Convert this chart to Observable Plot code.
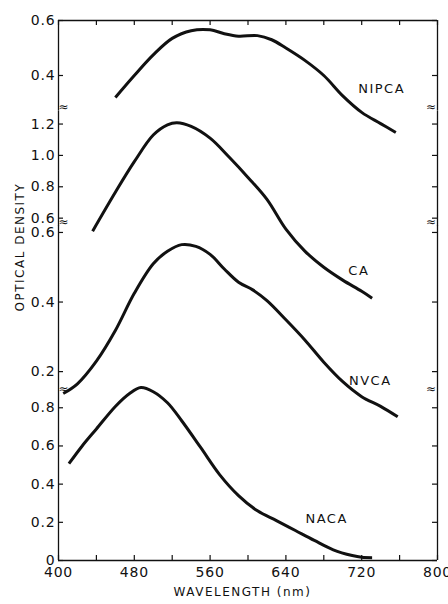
<!DOCTYPE html>
<html><head><meta charset="utf-8">
<script src="https://cdn.jsdelivr.net/npm/d3@7"></script>
<script src="https://cdn.jsdelivr.net/npm/@observablehq/plot@0.6"></script>
<style>
html,body{margin:0;padding:0;background:#fff;}
#chart{position:relative;width:448px;height:604px;font-family:"DejaVu Sans",sans-serif;color:#111;}
#chart svg{position:absolute;left:0;overflow:visible;background:transparent;}
#chart g[aria-label="text"] text{letter-spacing:1.5px;}
#chart g[aria-label$="tick label"] text{letter-spacing:0.8px;}
</style></head><body><div id="chart"></div>
<script>
// ---- data (wavelength in nm, optical density) ----
const nipcaWl = [460,480,500,520,540,560,575,590,610,625,640,660,680,700,720,740,756];
const nipcaOD = [0.32,0.40,0.475,0.535,0.563,0.566,0.552,0.543,0.545,0.53,0.50,0.455,0.40,0.326,0.266,0.225,0.193];
const caWl = [436,460,480,500,515,525,540,560,580,600,620,640,660,680,700,720,731];
const caOD = [0.517,0.765,0.96,1.13,1.195,1.208,1.185,1.11,0.99,0.86,0.72,0.53,0.39,0.287,0.205,0.134,0.09];
const nvcaWl = [405,420,440,460,480,500,515,530,545,560,575,590,605,620,640,660,680,700,720,740,758];
const nvcaOD = [0.137,0.165,0.23,0.318,0.425,0.51,0.546,0.565,0.56,0.537,0.495,0.457,0.435,0.404,0.349,0.291,0.227,0.171,0.128,0.10,0.07];
const nacaWl = [411,425,440,460,475,487,500,515,530,550,570,590,610,630,650,670,690,710,720,731];
const nacaOD = [0.507,0.60,0.689,0.807,0.875,0.906,0.884,0.826,0.732,0.592,0.45,0.34,0.26,0.209,0.157,0.105,0.056,0.026,0.017,0.015];

const seriesNames = ["NIPCA","CA","NVCA","NACA"];
const nipcaTicks = [0.4,0.6];
const caTicks = [0.6,0.8,1.0,1.2];
const nvcaTicks = [0.2,0.4,0.6];
const nacaTicks = [0,0.2,0.4,0.6,0.8];
const xTicks = [400,440,480,520,560,600,640,680,720,760,800];
const xLabelTicks = [400,480,560,640,720,800];
const xTitle = "WAVELENGTH (nm)";
const yTitle = "OPTICAL DENSITY";
const breakMark = "≈";

// ---- layout of the stacked panels ----
const panels = [
  {name:seriesNames[0], wl:nipcaWl, od:nipcaOD, ticks:nipcaTicks, domain:[0.27,0.6], frame:[20,110.75], labelAt:[741,0.353]},
  {name:seriesNames[1], wl:caWl, od:caOD, ticks:caTicks, domain:[0.55,1.28], frame:[110.5,225], labelAt:[717,0.262]},
  {name:seriesNames[2], wl:nvcaWl, od:nvcaOD, ticks:nvcaTicks, domain:[0.14,0.62], frame:[225,392], labelAt:[729,0.174]},
  {name:seriesNames[3], wl:nacaWl, od:nacaOD, ticks:nacaTicks, domain:[0,0.88], frame:[392,560], labelAt:[683,0.22]}
];

const chart = document.getElementById("chart");
const fmt = d => d === 0 ? "0" : d.toFixed(1);
const ink = "#111";
const W = 448, ML = 58, MR = 11;
const fw = W - ML - MR;   // frame width in px
const tk = 5;             // inward tick length in px

panels.forEach((p, i) => {
  const first = i === 0, last = i === panels.length - 1;
  const mt = 12, mb = last ? 44 : 12;
  const fh = p.frame[1] - p.frame[0];
  const data = p.wl.map((w, k) => ({wl: w, od: p.od[k]}));
  const marks = [
    Plot.ruleX([400, 800], {stroke: ink, strokeWidth: 1.3}),
    Plot.ruleY(p.ticks, {insetRight: fw - tk, stroke: ink, strokeWidth: 1.2}),
    Plot.ruleY(p.ticks, {insetLeft: fw - tk, stroke: ink, strokeWidth: 1.2}),
    Plot.axisY({anchor: "left", ticks: p.ticks, tickSize: 0, tickPadding: 3, tickFormat: fmt, label: null, fontSize: 14, fill: ink}),
    Plot.line(data, {x: "wl", y: "od", curve: "catmull-rom", stroke: ink, strokeWidth: 3, strokeLinecap: "butt"}),
    Plot.text([p.name], {x: p.labelAt[0], y: p.labelAt[1], text: d => d, fontSize: 13, fill: ink})
  ];
  if (first) {
    marks.push(Plot.ruleY([p.domain[1]], {stroke: ink, strokeWidth: 1.3}));
    marks.push(Plot.ruleX(xTicks, {insetBottom: fh - tk, stroke: ink, strokeWidth: 1.2}));
  }
  if (i === 2) {
    marks.push(Plot.text([yTitle], {frameAnchor: "left", text: d => d, rotate: -90, dx: -38, dy: 2.5, fontSize: 12, fill: ink}));
  }
  if (last) {
    marks.push(Plot.ruleY([0], {stroke: ink, strokeWidth: 1.3}));
    marks.push(Plot.ruleX(xTicks, {insetTop: fh - tk, stroke: ink, strokeWidth: 1.2}));
    marks.push(Plot.axisX({anchor: "bottom", ticks: xLabelTicks, tickSize: 0, tickPadding: 7, tickFormat: d => String(d), label: null, fontSize: 14, fill: ink}));
    marks.push(Plot.text([xTitle], {frameAnchor: "bottom", text: d => d, dx: -5.5, dy: 35, fontSize: 12, fill: ink}));
  } else {
    marks.push(Plot.text([breakMark], {frameAnchor: "bottom-left", text: d => d, fontSize: 12, fill: ink}));
    marks.push(Plot.text([breakMark], {frameAnchor: "bottom-right", text: d => d, fontSize: 12, fill: ink}));
  }
  const svg = Plot.plot({
    width: W,
    height: mt + fh + mb,
    marginLeft: ML, marginRight: MR, marginTop: mt, marginBottom: mb,
    x: {domain: [400, 800], axis: null},
    y: {domain: p.domain, axis: null},
    style: {fontFamily: "DejaVu Sans, sans-serif", fontSize: "14px", color: ink, background: "transparent", overflow: "visible"},
    marks
  });
  svg.style.top = (p.frame[0] - mt) + "px";
  chart.appendChild(svg);
});
</script></body></html>
